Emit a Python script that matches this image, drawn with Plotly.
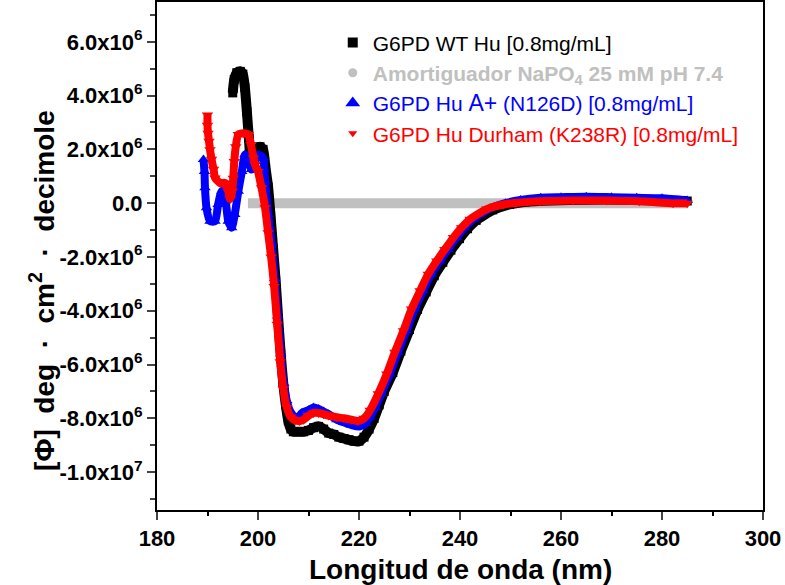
import plotly.graph_objects as go

# ---------------- data (values in units of 1e6) ----------------
wt_x = [195.0, 195.3, 195.8, 196.5, 197.0, 197.4, 197.8, 198.2, 198.7, 199.2, 199.8, 200.4,
        201.0, 201.5, 202.0, 202.5, 203.0, 203.5, 204.0, 204.5, 205.0, 205.5, 206.0, 206.5,
        207.0, 208.0, 209.0, 210.0, 211.0, 212.0, 213.0, 214.0, 215.0, 216.0, 217.0, 218.0,
        219.0, 220.0, 221.0, 222.0, 223.0, 224.0, 225.0, 226.7, 228.3, 230.0, 231.6, 233.3,
        234.9, 236.6, 238.2, 239.9, 241.5, 243.2, 246.5, 249.8, 253.0, 258.0, 265.0, 272.0,
        279.0, 285.0]
wt_y = [4.1, 4.6, 4.85, 4.9, 4.8, 4.3, 3.4, 2.4, 1.5, 1.55, 2.0, 2.1,
        2.0, 1.3, 0.6, -0.5, -1.7, -2.9, -4.3, -5.6, -6.7, -7.5, -8.1, -8.4,
        -8.5, -8.5, -8.5, -8.45, -8.35, -8.3, -8.4, -8.55, -8.6, -8.7, -8.75, -8.8,
        -8.85, -8.85, -8.7, -8.4, -8.0, -7.5, -7.0, -6.3, -5.5, -4.7, -3.95, -3.3,
        -2.7, -2.2, -1.75, -1.32, -0.95, -0.64, -0.25, -0.05, 0.05, 0.1, 0.13, 0.13,
        0.1, 0.08]

buf_x = [198.0, 200.0, 210.0, 220.0, 230.0, 240.0, 250.0, 260.0, 270.0, 280.0, 285.0]
buf_y = [0.0, 0.0, 0.0, 0.0, 0.0, 0.0, 0.0, 0.0, 0.0, 0.0, 0.0]

ap_x = [189.2, 189.4, 189.5, 189.8, 190.5, 191.5, 192.1, 192.8, 193.5, 194.1, 194.8, 195.4,
        196.1, 196.8, 197.4, 198.1, 198.7, 199.4, 200.1, 201.0, 201.4, 202.0, 202.7, 203.3,
        203.9, 204.5, 205.1, 205.7, 206.4, 207.3, 208.0, 208.7, 210.0, 211.0, 212.0, 213.0,
        214.0, 215.6, 217.0, 218.5, 220.2, 221.2, 222.2, 223.2, 224.4, 226.1, 227.7, 229.4,
        231.0, 232.7, 234.3, 236.0, 237.6, 239.3, 240.9, 242.6, 245.9, 249.0, 252.0, 256.0,
        260.0, 265.0, 270.0, 275.0, 280.0, 285.0]
ap_y = [1.62, 1.18, 0.57, -0.17, -0.67, -0.67, -0.05, 0.44, 0.2, -0.67, -0.91, -0.42,
        0.44, 1.18, 1.8, 1.62, 1.25, 1.55, 1.8, 1.68, 0.81, -0.42, -1.5, -2.8,
        -4.2, -5.6, -6.7, -7.35, -7.75, -7.95, -7.95, -7.8, -7.7, -7.6, -7.65, -7.75,
        -7.85, -8.05, -8.15, -8.25, -8.3, -8.2, -7.95, -7.6, -7.09, -6.35, -5.54, -4.74,
        -3.94, -3.26, -2.64, -2.15, -1.72, -1.28, -0.91, -0.6, -0.2, 0.0, 0.12, 0.2,
        0.22, 0.24, 0.22, 0.2, 0.18, 0.1]

du_x = [190.0, 190.0, 190.1, 190.3, 190.5, 190.8, 191.2, 191.5, 192.5, 193.5, 194.1, 194.5,
        194.9, 195.1, 195.3, 195.6, 196.1, 197.1, 198.1, 198.6, 199.1, 199.4, 200.0, 200.7,
        201.4, 202.0, 202.6, 203.2, 203.8, 204.4, 205.0, 205.7, 206.5, 207.3, 208.2, 209.0,
        210.0, 211.0, 212.0, 213.0, 214.0, 215.6, 217.0, 218.5, 219.8, 221.0, 222.2, 223.8,
        225.5, 227.1, 228.8, 230.4, 232.1, 233.7, 235.4, 237.0, 238.7, 240.3, 242.0, 245.3,
        248.6, 255.8, 262.4, 269.0, 275.5, 282.2, 285.0]
du_y = [3.28, 2.9, 2.6, 2.3, 1.99, 1.63, 1.26, 0.94, 0.75, 0.75, 0.44, 0.15,
        0.44, 0.93, 1.55, 2.1, 2.55, 2.6, 2.55, 2.18, 1.68, 1.44, 1.18, 0.57,
        -0.17, -1.1, -2.0, -3.1, -4.5, -5.9, -6.9, -7.6, -7.95, -8.07, -8.1, -8.05,
        -7.9, -7.8, -7.8, -7.85, -7.9, -7.96, -8.0, -8.05, -8.1, -8.0, -7.7, -7.09,
        -6.35, -5.54, -4.74, -3.94, -3.26, -2.64, -2.15, -1.72, -1.28, -0.91, -0.6, -0.22,
        -0.05, 0.07, 0.1, 0.1, 0.07, 0.0, 0.0]

y_tickvals = [6e6, 4e6, 2e6, 0, -2e6, -4e6, -6e6, -8e6, -1e7]
y_ticktext = ["6.0x10<sup>6</sup>", "4.0x10<sup>6</sup>", "2.0x10<sup>6</sup>", "0.0",
              "-2.0x10<sup>6</sup>", "-4.0x10<sup>6</sup>", "-6.0x10<sup>6</sup>",
              "-8.0x10<sup>6</sup>", "-1.0x10<sup>7</sup>"]
x_tickvals = [180, 200, 220, 240, 260, 280, 300]
x_ticktext = ["180", "200", "220", "240", "260", "280", "300"]
x_minorvals = [190, 210, 230, 250, 270, 290]

names = ["G6PD WT Hu [0.8mg/mL]",
         '<span style="color:#c0c0c0"><b>Amortiguador NaPO<sub>4</sub> 25 mM pH 7.4</b></span>',
         '<span style="color:#0000ff">G6PD Hu <span style="font-size:23px">A+</span> (N126D) [0.8mg/mL]</span>',
         '<span style="color:#ff0000">G6PD Hu Durham (K238R) [0.8mg/mL]</span>']

def scale(v):
    return [a * 1e6 for a in v]

FAM = "Arial, Liberation Sans, sans-serif"

fig = go.Figure()

# data traces (drawing order: buffer, WT, A+, Durham)
fig.add_trace(go.Scatter(x=buf_x, y=scale(buf_y), mode="lines",
                         line=dict(color="#c0c0c0", width=10), showlegend=False, hoverinfo="skip"))
fig.add_trace(go.Scatter(x=wt_x, y=scale(wt_y), mode="lines+markers",
                         line=dict(color="black", width=10, shape="spline", smoothing=0.6),
                         marker=dict(symbol="square", size=9, color="black"), showlegend=False))
fig.add_trace(go.Scatter(x=ap_x, y=scale(ap_y), mode="lines+markers",
                         line=dict(color="#0000ff", width=8, shape="spline", smoothing=0.6),
                         marker=dict(symbol="triangle-up", size=10, color="#0000ff"), showlegend=False))
fig.add_trace(go.Scatter(x=du_x, y=scale(du_y), mode="lines+markers",
                         line=dict(color="#ff0000", width=8, shape="spline", smoothing=0.6),
                         marker=dict(symbol="triangle-down", size=10, color="#ff0000"), showlegend=False))

# legend-only traces
leg_sym = ["square", "circle", "triangle-up", "triangle-down"]
leg_col = ["black", "#c0c0c0", "#0000ff", "#ff0000"]
leg_size = [10, 9, 13, 8]
for i in range(4):
    fig.add_trace(go.Scatter(x=[None], y=[None], mode="markers", name=names[i],
                             marker=dict(symbol=leg_sym[i], size=leg_size[i], color=leg_col[i]),
                             legendgroup="g%d" % i, legendrank=i + 1))

axis_font = dict(family=FAM, size=22, color="black", weight="bold")

fig.update_layout(
    width=785, height=585,
    margin=dict(l=157, r=22, t=0, b=75),
    paper_bgcolor="white", plot_bgcolor="white",
    font=dict(family=FAM, color="black"),
    showlegend=True,
    legend=dict(x=0.29, y=0.96, xanchor="left", yanchor="top",
                font=dict(size=21, family=FAM),
                bgcolor="rgba(0,0,0,0)", traceorder="grouped", tracegroupgap=0,
                itemsizing="trace"),
    xaxis=dict(range=[180, 300], tickmode="array", tickvals=x_tickvals,
               ticktext=["<b>%s</b>" % t for t in x_ticktext],
               ticks="outside", ticklen=8, tickwidth=2,
               showline=True, linewidth=2, linecolor="black", mirror=True, showgrid=False,
               zeroline=False, tickfont=axis_font),
    xaxis2=dict(range=[180, 300], overlaying="x", side="bottom", anchor="y", tickmode="array",
                tickvals=x_minorvals, ticks="outside", ticklen=5, tickwidth=2, tickcolor="black",
                showticklabels=False, showline=False, showgrid=False, zeroline=False),
    yaxis=dict(range=[-1.141e7, 7.48e6], tickmode="array", tickvals=y_tickvals,
               ticktext=["<b>%s</b>" % t for t in y_ticktext],
               ticks="outside", ticklen=8, tickwidth=2,
               showline=True, linewidth=2, linecolor="black", mirror=True, showgrid=False,
               zeroline=False, tickfont=axis_font,
               minor=dict(dtick=1e6, tick0=0, ticks="outside", ticklen=5, tickwidth=2, showgrid=False)),
    annotations=[
        dict(text="<b>Longitud de onda (nm)</b>", xref="paper", yref="paper", x=0.5, y=-0.118,
             xanchor="center", yanchor="middle", showarrow=False,
             font=dict(size=28, family=FAM, color="black")),
        dict(text="<b>[Φ]  deg  ·  cm<sup>2</sup>  ·  decimole</b>", xref="paper", yref="paper",
             x=-0.19, y=0.433, xanchor="center", yanchor="middle", textangle=-90, showarrow=False,
             font=dict(size=28, family=FAM, color="black")),
    ],
)
# dummy invisible trace to activate the minor-tick axis
fig.add_trace(go.Scatter(x=[None], y=[None], xaxis="x2", yaxis="y", showlegend=False, hoverinfo="skip"))

fig.write_html("out.html")
